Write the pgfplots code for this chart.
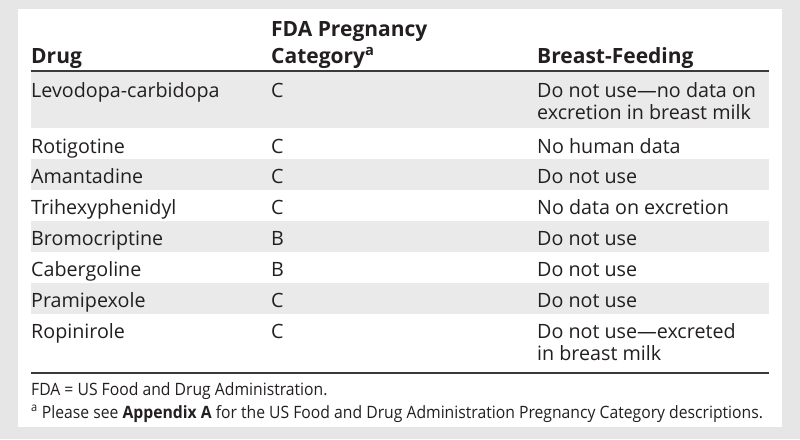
\documentclass[border=0pt]{standalone}
\usepackage{fontspec}
\setmainfont{Open Sans}
\usepackage{pgfplots}
\pgfplotsset{compat=1.18}
\definecolor{bg}{HTML}{E6E6E6}
\definecolor{rowg}{HTML}{EAEAEA}
\definecolor{txt}{HTML}{231F20}
\definecolor{rulec}{HTML}{3A3A3A}
\tikzset{
  body/.style={anchor=base west, inner sep=0pt, text=txt, font=\fontsize{19.7}{22}\selectfont},
  head/.style={anchor=base west, inner sep=0pt, text=txt, font=\bfseries\fontsize{21}{24}\selectfont},
  foot/.style={anchor=base west, inner sep=0pt, text=txt, font=\fontsize{17}{20}\selectfont}}
\begin{document}
\begin{tikzpicture}
\begin{axis}[scale only axis, width=800pt, height=439pt,
  xmin=0, xmax=800, ymin=0, ymax=439, y dir=reverse, hide axis, clip=false]
% background and panel
\addplot[fill=bg, draw=none] coordinates {(0,0) (800,0) (800,439) (0,439)} -- cycle;
\addplot[fill=white, draw=none] coordinates {(18,9) (782,9) (782,427) (18,427)} -- cycle;
% shaded rows
\addplot[fill=rowg, draw=none] coordinates {(31,72) (769,72) (769,128) (31,128)} -- cycle;
\addplot[fill=rowg, draw=none] coordinates {(31,159) (769,159) (769,190) (31,190)} -- cycle;
\addplot[fill=rowg, draw=none] coordinates {(31,221) (769,221) (769,252) (31,252)} -- cycle;
\addplot[fill=rowg, draw=none] coordinates {(31,283) (769,283) (769,314) (31,314)} -- cycle;
% rules
\addplot[draw=rulec, line width=1.4pt] coordinates {(31,71) (769,71)};
\addplot[draw=rulec, line width=2pt] coordinates {(31,373) (769,373)};
% header
\node[head] at (axis cs:31,63) {Drug};
\node[head] at (axis cs:271,36) {FDA Pregnancy};
\node[head] at (axis cs:271,63) {Category\textsuperscript{a}};
\node[head] at (axis cs:537,63) {Breast-Feeding};
% rows
\node[body] at (axis cs:31,97) {Levodopa-carbidopa};
\node[body] at (axis cs:271,97) {C};
\node[body] at (axis cs:537,97) {Do not use---no data on};
\node[body] at (axis cs:537,119) {excretion in breast milk};
\node[body] at (axis cs:31,153) {Rotigotine};
\node[body] at (axis cs:271,153) {C};
\node[body] at (axis cs:537,153) {No human data};
\node[body] at (axis cs:31,183) {Amantadine};
\node[body] at (axis cs:271,183) {C};
\node[body] at (axis cs:537,183) {Do not use};
\node[body] at (axis cs:31,214) {Trihexyphenidyl};
\node[body] at (axis cs:271,214) {C};
\node[body] at (axis cs:537,214) {No data on excretion};
\node[body] at (axis cs:31,245) {Bromocriptine};
\node[body] at (axis cs:271,245) {B};
\node[body] at (axis cs:537,245) {Do not use};
\node[body] at (axis cs:31,276) {Cabergoline};
\node[body] at (axis cs:271,276) {B};
\node[body] at (axis cs:537,276) {Do not use};
\node[body] at (axis cs:31,307) {Pramipexole};
\node[body] at (axis cs:271,307) {C};
\node[body] at (axis cs:537,307) {Do not use};
\node[body] at (axis cs:31,338) {Ropinirole};
\node[body] at (axis cs:271,338) {C};
\node[body] at (axis cs:537,338) {Do not use---excreted};
\node[body] at (axis cs:537,360) {in breast milk};
% footnotes
\node[foot] at (axis cs:31,395) {\scalebox{0.925}[1]{FDA = US Food and Drug Administration.}};
\node[foot] at (axis cs:31,418) {\scalebox{0.925}[1]{\textsuperscript{a} Please see \textbf{Appendix A} for the US Food and Drug Administration Pregnancy Category descriptions.}};
\end{axis}
\end{tikzpicture}
\end{document}
